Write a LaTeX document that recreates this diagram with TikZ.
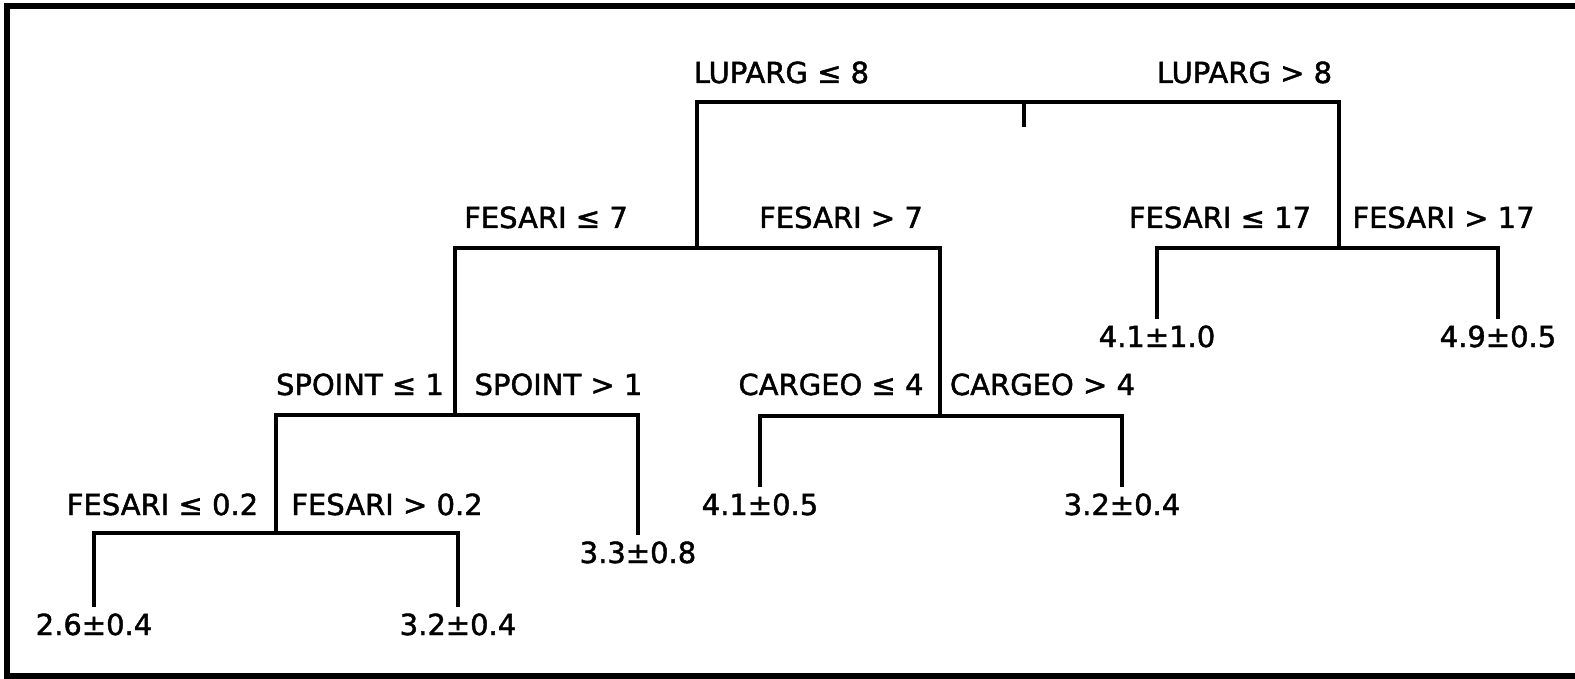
\documentclass[tikz,border=0pt]{standalone}
\usepackage{fontspec}
\newfontface\labfont{DejaVu Sans}[FakeBold=1.5]
\begin{document}
\begin{tikzpicture}[x=1pt,y=-1pt,
  lab/.style={anchor=base, inner sep=0pt, outer sep=0pt, font=\labfont\fontsize{29}{34}\selectfont},
  leaf/.style={lab, text height=28pt, text depth=0pt},
  edge/.style={line width=4pt},
  frame/.style={line width=6pt}]
\useasboundingbox (0,0) rectangle (1575,679);
\clip (0,0) rectangle (1575,679);
% frame (its right side lies outside the picture)
\draw[frame] (1600,6.5) -- (7,6.5) -- (7,675.5) -- (1600,675.5);
% split points
\coordinate (root) at (1024,102);
\coordinate (stub) at (1024,127);
\coordinate (nL) at (697,248);
\coordinate (nR) at (1339,248);
\coordinate (nLL) at (455,415);
\coordinate (nLR) at (940,416);
\coordinate (nLLL) at (276,533);
% labels
\node[lab] (t1) at (781.5,83) {LUPARG ≤ 8};
\node[lab] (t2) at (1244.5,83) {LUPARG > 8};
\node[lab] (t3) at (546,228) {FESARI ≤ 7};
\node[lab] (t4) at (841,228) {FESARI > 7};
\node[lab] (t5) at (1220,228) {FESARI ≤ 17};
\node[lab] (t6) at (1443.5,228) {FESARI > 17};
\node[lab] (t7) at (360,395) {SPOINT ≤ 1};
\node[lab] (t8) at (558.5,395) {SPOINT > 1};
\node[lab] (t9) at (831,395) {CARGEO ≤ 4};
\node[lab] (t10) at (1042.5,395) {CARGEO > 4};
\node[lab] (t11) at (162.5,515) {FESARI ≤ 0.2};
\node[lab] (t12) at (387,515) {FESARI > 0.2};
% leaves
\node[leaf] (l26) at (94,635) {2.6±0.4};
\node[leaf] (l32a) at (458,635) {3.2±0.4};
\node[leaf] (l33) at (638,563) {3.3±0.8};
\node[leaf] (l41b) at (760,515) {4.1±0.5};
\node[leaf] (l32b) at (1122,515) {3.2±0.4};
\node[leaf] (l41a) at (1157,347) {4.1±1.0};
\node[leaf] (l49) at (1498,347) {4.9±0.5};
% tree
\draw[edge] (root) -- (stub);
\draw[edge] (root) -| (nL);
\draw[edge] (root) -| (nR);
\draw[edge] (nL) -| (nLL);
\draw[edge] (nL) -| (nLR);
\draw[edge] (nR) -| (l41a.north);
\draw[edge] (nR) -| (l49.north);
\draw[edge] (nLL) -| (nLLL);
\draw[edge] (nLL) -| (l33.north);
\draw[edge] (nLR) -| (l41b.north);
\draw[edge] (nLR) -| (l32b.north);
\draw[edge] (nLLL) -| (l26.north);
\draw[edge] (nLLL) -| (l32a.north);
\end{tikzpicture}
\end{document}
